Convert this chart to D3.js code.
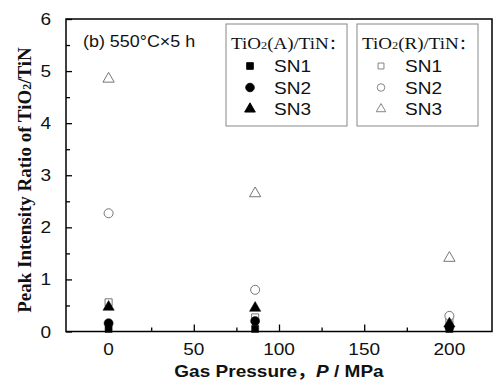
<!DOCTYPE html>
<html><head><meta charset="utf-8">
<script src="https://cdn.jsdelivr.net/npm/d3@7"></script>
<style>body{margin:0;background:#fff}</style>
</head><body>
<svg id="c" width="500" height="382"></svg>
<script>
const pressures = [0, 86, 200];
const anataseSN1 = [0.05, 0.05, 0.05];
const anataseSN2 = [0.16, 0.20, 0.08];
const anataseSN3 = [0.47, 0.45, 0.15];
const rutileSN1 = [0.56, 0.27, 0.22];
const rutileSN2 = [2.27, 0.80, 0.30];
const rutileSN3 = [4.85, 2.65, 1.41];
const xTicks = [0, 50, 100, 150, 200];
const yTicks = [0, 1, 2, 3, 4, 5, 6];

const SX = 1.12; // horizontal stretch of the reference text
const svg = d3.select("#c");
const L = 66, R = 492, T = 19, B = 331.5;
const x = d3.scaleLinear().domain([-25, 225]).range([L, R]);
const y = d3.scaleLinear().domain([0, 6]).range([B, T]);
const sans = "Arial, 'Liberation Sans', sans-serif";
const serif = "'Liberation Serif', 'Times New Roman', serif";
const cjk = "'Noto Sans CJK SC', sans-serif";

function stext(px, py, size, fam, anchor) {
  return svg.append("text").attr("transform", `translate(${px},${py}) scale(${SX},1)`)
    .attr("text-anchor", anchor || "start").attr("font-family", fam).attr("font-size", size).attr("fill", "#111");
}

// ticks (inside)
svg.append("g").attr("transform", `translate(0,${B})`)
  .call(d3.axisBottom(x).tickValues(xTicks).tickSizeInner(-7).tickSizeOuter(0).tickFormat(""));
svg.append("g").attr("transform", `translate(0,${B})`)
  .call(d3.axisBottom(x).tickValues([25,75,125,175]).tickSizeInner(-4).tickSizeOuter(0).tickFormat(""));
svg.append("g").attr("transform", `translate(${L},0)`)
  .call(d3.axisLeft(y).tickValues(yTicks).tickSizeInner(-6).tickSizeOuter(0).tickFormat(""));
svg.append("g").attr("transform", `translate(${L},0)`)
  .call(d3.axisLeft(y).tickValues([0.5,1.5,2.5,3.5,4.5,5.5]).tickSizeInner(-4).tickSizeOuter(0).tickFormat(""));
svg.selectAll(".domain").remove();
svg.selectAll(".tick line").attr("stroke", "#000").attr("stroke-width", 1.3);

// tick labels
xTicks.forEach(v => stext(x(v), B + 23, 17, sans, "middle").text(d3.format("d")(v)));
yTicks.forEach(v => stext(L - 15, y(v) + 6, 17, sans, "end").text(d3.format("d")(v)));

svg.append("rect").attr("x", L).attr("y", T).attr("width", R - L).attr("height", B - T)
  .attr("fill", "none").attr("stroke", "#000").attr("stroke-width", 1.5);

const series = [
  {v: rutileSN1, shape: d3.symbolSquare, fill: false, size: 50},
  {v: rutileSN2, shape: d3.symbolCircle, fill: false, size: 64},
  {v: rutileSN3, shape: d3.symbolTriangle, fill: false, size: 55},
  {v: anataseSN3, shape: d3.symbolTriangle, fill: true, size: 55},
  {v: anataseSN2, shape: d3.symbolCircle, fill: true, size: 64},
  {v: anataseSN1, shape: d3.symbolSquare, fill: true, size: 50},
];
series.forEach(s => {
  svg.append("g").selectAll("path").data(s.v).join("path")
    .attr("transform", (d, i) => `translate(${x(pressures[i])},${y(d)})`)
    .attr("d", d3.symbol().type(s.shape).size(s.size))
    .attr("fill", s.fill ? "#000" : "#fff")
    .attr("stroke", s.fill ? "#000" : "#666")
    .attr("stroke-width", s.fill ? 0.5 : 0.9);
});

// legends
const legends = [
  {x0: 226, x1: 347, title: "A", fill: true, mx: 250, tx: 274},
  {x0: 357, x1: 478, title: "R", fill: false, mx: 381, tx: 405},
];
const legShapes = [[d3.symbolSquare, 50, "SN1"], [d3.symbolCircle, 64, "SN2"], [d3.symbolTriangle, 55, "SN3"]];
legends.forEach(lg => {
  svg.append("rect").attr("x", lg.x0).attr("y", T + 5).attr("width", lg.x1 - lg.x0).attr("height", 102)
    .attr("fill", "#fff").attr("stroke", "#888").attr("stroke-width", 1);
  const t = stext(lg.x0 + 5, 49, 17, serif);
  t.append("tspan").text("TiO");
  t.append("tspan").attr("font-size", 11).text("2");
  t.append("tspan").text(`(${lg.title})/TiN`);
  t.append("tspan").attr("font-family", cjk).attr("font-size", 15).text("：");
  legShapes.forEach((it, i) => {
    const yy = 66 + i * 21.5;
    svg.append("path").attr("transform", `translate(${lg.mx},${yy})`)
      .attr("d", d3.symbol().type(it[0]).size(it[1] * (lg.fill ? 0.9 : 0.7)))
      .attr("fill", lg.fill ? "#000" : "#fff").attr("stroke", lg.fill ? "#000" : "#777").attr("stroke-width", 0.9);
    stext(lg.tx, yy + 6, 17, sans).text(it[2]);
  });
});

stext(83, 47, 16, sans).text("(b) 550°C×5 h");

// axis titles
const yl = svg.append("text").attr("transform", "translate(31,180) rotate(-90)").attr("text-anchor", "middle")
  .attr("font-family", serif).attr("font-size", 19).attr("font-weight", "bold").attr("fill", "#111");
yl.append("tspan").text("Peak Intensity Ratio of TiO");
yl.append("tspan").attr("font-size", 12).text("2");
yl.append("tspan").text("/TiN");

const xl = stext(279, 377, 17, sans, "middle").attr("font-weight", "bold");
xl.append("tspan").text("Gas Pressure");
xl.append("tspan").attr("font-family", cjk).text("，");
xl.append("tspan").attr("font-style", "italic").text("P");
xl.append("tspan").text(" / MPa");
</script>
</body></html>
